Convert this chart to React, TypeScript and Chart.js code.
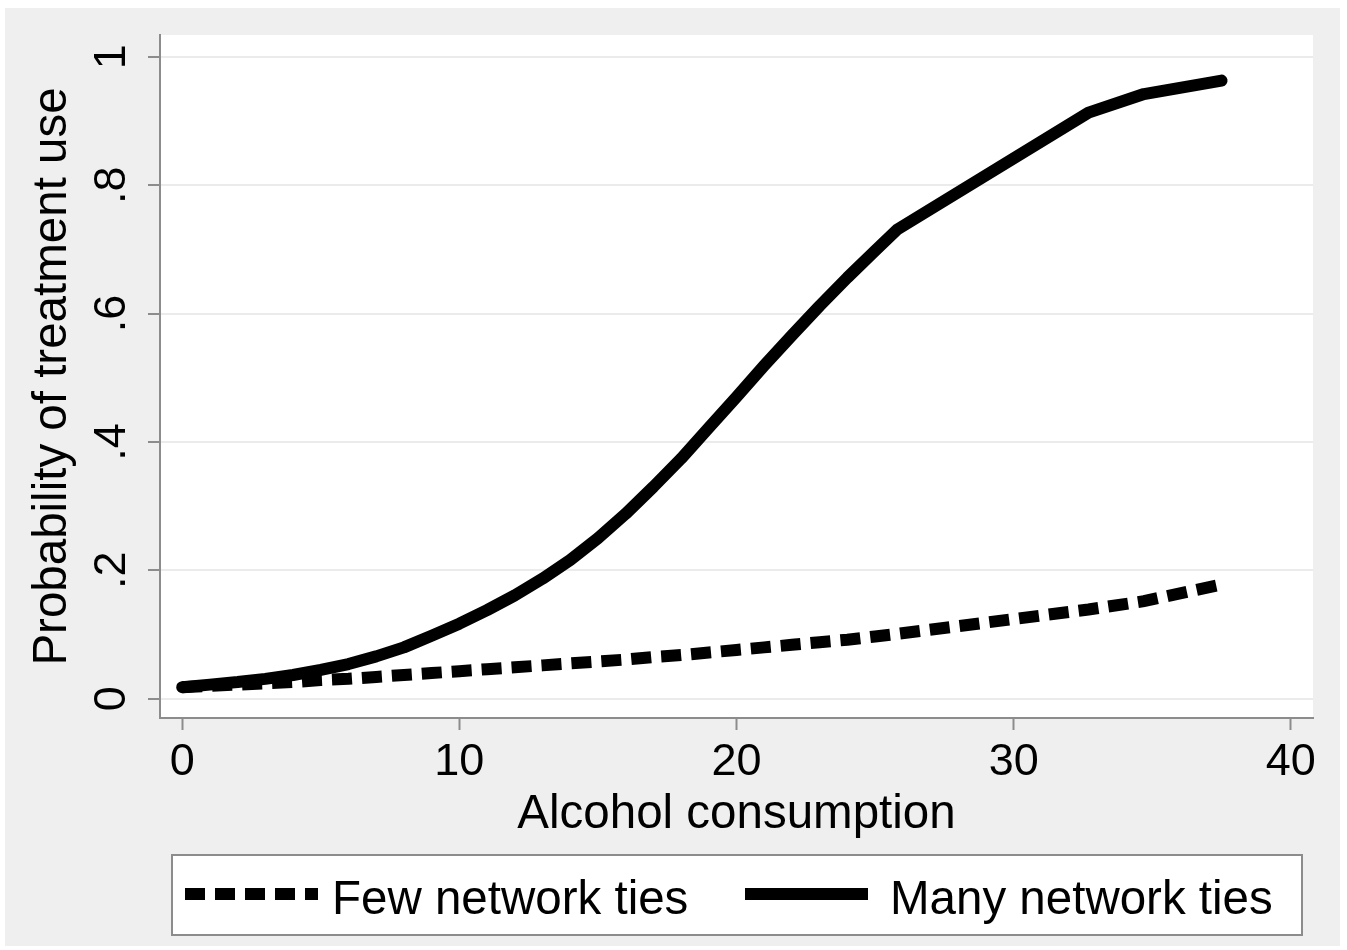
import React, { useEffect, useRef } from "react";
import { Chart, registerables } from "chart.js";

Chart.register(...registerables);

// ---- data ----
const alcohol = [
  0, 1, 2, 3, 4, 5, 6, 7, 8, 9, 10, 11, 12, 13, 14, 15, 16, 17, 18, 19, 20,
  21, 22, 23, 24, 25, 25.8, 32.7, 34.7, 37.5,
];
const fewTies = [
  0.018, 0.02, 0.022, 0.024, 0.026, 0.029, 0.031, 0.034, 0.037, 0.04, 0.043,
  0.046, 0.049, 0.052, 0.055, 0.058, 0.061, 0.065, 0.068, 0.072, 0.076, 0.08,
  0.084, 0.088, 0.092, 0.097, 0.101, 0.139, 0.152, 0.178,
];
const manyTies = [
  0.018, 0.022, 0.026, 0.031, 0.037, 0.045, 0.054, 0.066, 0.08, 0.098, 0.117,
  0.138, 0.161, 0.187, 0.216, 0.25, 0.288, 0.33, 0.374, 0.422, 0.47, 0.519,
  0.566, 0.612, 0.656, 0.698, 0.731, 0.913, 0.942, 0.963,
];
const seriesNames = ["Few network ties", "Many network ties"];
const xTickValues = [0, 10, 20, 30, 40];
const xTickLabels = ["0", "10", "20", "30", "40"];
const yTickValues = [0, 0.2, 0.4, 0.6, 0.8, 1];
const yTickLabels = ["0", ".2", ".4", ".6", ".8", "1"];
const xTitle = "Alcohol consumption";
const yTitle = "Probability of treatment use";

const FONT = "'Liberation Sans', Arial, Helvetica, sans-serif";
const GRAY_BG = "#efefef";
const AXIS = "#8c8c8c";

const backgroundPlugin = {
  id: "stataBackground",
  beforeDraw(chart: any) {
    const { ctx, chartArea } = chart;
    ctx.save();
    ctx.fillStyle = "#ffffff";
    ctx.fillRect(0, 0, chart.width, chart.height);
    ctx.fillStyle = GRAY_BG;
    ctx.fillRect(5, 8, 1335, 938);
    ctx.fillStyle = "#ffffff";
    ctx.fillRect(
      chartArea.left,
      chartArea.top,
      chartArea.right - chartArea.left,
      chartArea.bottom - chartArea.top
    );
    ctx.restore();
  },
};

const legendPlugin = {
  id: "stataLegend",
  afterDraw(chart: any) {
    const { ctx } = chart;
    const ds = chart.data.datasets;
    ctx.save();
    ctx.fillStyle = "#ffffff";
    ctx.fillRect(172, 855, 1130, 80);
    ctx.strokeStyle = AXIS;
    ctx.lineWidth = 2;
    ctx.strokeRect(172, 855, 1130, 80);
    const cy = 894;
    const items = [
      { idx: 0, x0: 185, x1: 318, tx: 332 },
      { idx: 1, x0: 745, x1: 868, tx: 890 },
    ];
    items.forEach((it) => {
      const d = ds[it.idx];
      ctx.beginPath();
      ctx.setLineDash(d.borderDash || []);
      ctx.lineCap = "butt";
      ctx.lineWidth = d.borderWidth;
      ctx.strokeStyle = d.borderColor;
      ctx.moveTo(it.x0, cy);
      ctx.lineTo(it.x1, cy);
      ctx.stroke();
      ctx.setLineDash([]);
      ctx.fillStyle = "#000";
      ctx.font = `47.5px ${FONT}`;
      ctx.textBaseline = "alphabetic";
      ctx.textAlign = "left";
      ctx.fillText(d.label, it.tx, 914);
    });
    ctx.restore();
  },
};

export default function App() {
  const ref = useRef<HTMLCanvasElement | null>(null);

  useEffect(() => {
    if (!ref.current) return;
    const chart = new Chart(ref.current, {
      type: "line",
      data: {
        datasets: [
          {
            label: seriesNames[0],
            data: alcohol.map((x, i) => ({ x, y: fewTies[i] })),
            borderColor: "#000000",
            borderWidth: 12,
            borderDash: [20, 10],
            borderCapStyle: "butt",
            pointRadius: 0,
            tension: 0,
            fill: false,
          },
          {
            label: seriesNames[1],
            data: alcohol.map((x, i) => ({ x, y: manyTies[i] })),
            borderColor: "#000000",
            borderWidth: 12,
            borderCapStyle: "round",
            borderJoinStyle: "round",
            pointRadius: 0,
            tension: 0,
            fill: false,
          },
        ],
      },
      options: {
        animation: false,
        responsive: false,
        devicePixelRatio: 1,
        layout: { padding: { left: 0, top: 35, right: 34, bottom: 105 } },
        plugins: {
          legend: { display: false },
          tooltip: { enabled: false },
        },
        scales: {
          x: {
            type: "linear",
            min: -0.8,
            max: 40.8,
            afterBuildTicks: (s: any) => {
              s.ticks = xTickValues.map((v) => ({ value: v }));
            },
            afterFit: (s: any) => {
              s.height = 127;
              s.paddingLeft = 0;
              s.paddingRight = 0;
            },
            ticks: {
              callback: (v: any) => xTickLabels[xTickValues.indexOf(v)] ?? "",
              font: { family: FONT, size: 45 },
              color: "#000",
              padding: 6,
              maxRotation: 0,
              minRotation: 0,
            },
            grid: {
              drawOnChartArea: false,
              drawTicks: true,
              tickLength: 12,
              tickColor: AXIS,
              tickWidth: 2,
              color: AXIS,
            },
            border: { display: true, color: AXIS, width: 2 },
            title: {
              display: true,
              text: xTitle,
              color: "#000",
              font: { family: FONT, size: 47.5 },
              padding: { top: 0, bottom: 2 },
            },
          },
          y: {
            type: "linear",
            min: -0.03,
            max: 1.034,
            afterBuildTicks: (s: any) => {
              s.ticks = yTickValues.map((v) => ({ value: v }));
            },
            afterFit: (s: any) => {
              s.width = 160;
              s.paddingTop = 0;
              s.paddingBottom = 0;
            },
            ticks: {
              callback: (v: any) => yTickLabels[yTickValues.indexOf(v)] ?? "",
              font: { family: FONT, size: 45 },
              color: "#000",
              padding: 17,
              minRotation: 90,
              maxRotation: 90,
              crossAlign: "center",
            },
            grid: {
              drawOnChartArea: true,
              drawTicks: true,
              tickLength: 12,
              tickColor: AXIS,
              tickWidth: 2,
              color: "#ebebeb",
              lineWidth: 2,
            },
            border: { display: true, color: AXIS, width: 2 },
            title: {
              display: true,
              text: yTitle,
              color: "#000",
              font: { family: FONT, size: 47.5 },
              padding: { top: 24, bottom: 0 },
            },
          },
        },
      },
      plugins: [backgroundPlugin, legendPlugin],
    } as any);
    return () => chart.destroy();
  }, []);

  return (
    <div style={{ position: "absolute", left: 0, top: 0, width: 1347, height: 950 }}>
      <canvas ref={ref} width={1347} height={950} style={{ display: "block" }} />
    </div>
  );
}
